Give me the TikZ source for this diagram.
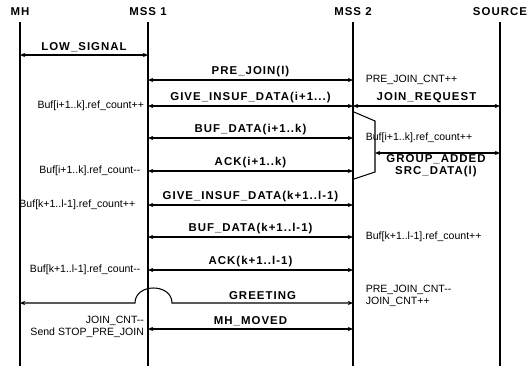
\documentclass[tikz,border=0pt]{standalone}
\usepackage{fontspec}
\setmainfont{Liberation Sans}
\newfontfamily\msgfont[LetterSpace=9]{Liberation Sans}
\usetikzlibrary{arrows.meta}

\begin{document}
\begin{tikzpicture}[
  x=0.02cm, y=-0.02cm,
  line width=0.6pt,
  msg/.style={{Stealth[length=3pt,width=2.4pt]}-{Stealth[length=3pt,width=2.4pt]}},
  lbl/.style={midway, above, inner sep=1.5pt, font=\msgfont\bfseries\fontsize{6.5}{7}\selectfont},
  head/.style={font=\msgfont\bfseries\fontsize{6.5}{7}\selectfont},
  notel/.style={anchor=east, align=right, inner sep=1pt, font=\fontsize{6}{6.8}\selectfont},
  noter/.style={anchor=west, align=left, inner sep=1pt, font=\fontsize{6}{6.8}\selectfont},
]
\useasboundingbox (0,0) rectangle (529,366);

% Lifelines
\node[head] (mh)   at (20,12)  {MH};
\node[head] (mss1) at (148,12) {MSS 1};
\node[head] (mss2) at (353,12) {MSS 2};
\node[head] (src)  at (500,12) {SOURCE};
\coordinate (top) at (0,22);
\coordinate (bot) at (0,366);
\foreach \l in {mh, mss1, mss2, src}
  \draw (\l |- top) -- (\l |- bot);

% Row coordinates
\coordinate (lowsig) at (0,55);
\coordinate (prejoin) at (0,80);
\coordinate (give1) at (0,106);
\coordinate (buf1) at (0,138);
\coordinate (grp) at (0,153);
\coordinate (ack1) at (0,171);
\coordinate (give2) at (0,205);
\coordinate (buf2) at (0,237);
\coordinate (ack2) at (0,270);
\coordinate (greet) at (0,303);
\coordinate (moved) at (0,329);

% Messages
\draw[msg] (mh |- lowsig) -- (mss1 |- lowsig) node[lbl]{LOW\_SIGNAL};
\draw[msg] (mss1 |- prejoin) -- (mss2 |- prejoin) node[lbl]{PRE\_JOIN(l)};
\node[noter] at ([xshift=6pt]mss2 |- prejoin) {PRE\_JOIN\_CNT++};

\draw[msg] (mss1 |- give1) -- (mss2 |- give1) node[lbl]{GIVE\_INSUF\_DATA(i+1...)};
\draw[msg] (mss2 |- give1) -- (src |- give1) node[lbl]{JOIN\_REQUEST};
\node[notel] at ([xshift=-1pt]mss1 |- give1) {Buf[i+1..k].ref\_count++};

\draw[msg] (mss1 |- buf1) -- (mss2 |- buf1) node[lbl]{BUF\_DATA(i+1..k)};
\node[noter] at ([xshift=6pt]mss2 |- buf1) {Buf[i+1..k].ref\_count++};

\draw[msg] (mss1 |- ack1) -- (mss2 |- ack1) node[lbl]{ACK(i+1..k)};
\node[notel] at ([xshift=-3pt]mss1 |- ack1) {Buf[i+1..k].ref\_count-{}-};

% Source side: group added
\draw (354,112) -- (375,121) -- (375,172) -- (354,179);
\coordinate (tr) at (375,153);
\draw[msg] (tr) -- (src |- grp);
\node[anchor=north, align=center, inner sep=0.5pt,
      font=\msgfont\bfseries\fontsize{6.5}{6.8}\selectfont] (grplbl) at (436,153)
  {GROUP\_ADDED\\SRC\_DATA(l)};

\draw[msg] (mss1 |- give2) -- (mss2 |- give2) node[lbl]{GIVE\_INSUF\_DATA(k+1..l-1)};
\node[notel] at ([xshift=-6pt]mss1 |- give2) {Buf[k+1..l-1].ref\_count++};

\draw[msg] (mss1 |- buf2) -- (mss2 |- buf2) node[lbl]{BUF\_DATA(k+1..l-1)};
\node[noter] at ([xshift=6pt]mss2 |- buf2) {Buf[k+1..l-1].ref\_count++};

\draw[msg] (mss1 |- ack2) -- (mss2 |- ack2) node[lbl]{ACK(k+1..l-1)};
\node[notel] at ([xshift=-3pt]mss1 |- ack2) {Buf[k+1..l-1].ref\_count-{}-};

% Greeting hops over MSS 1
\draw[msg] (mh |- greet) -- (135,303) .. controls (135,283) and (172,283) .. (172,303)
  -- (mss2 |- greet) node[lbl]{GREETING};
\node[noter] at ([xshift=6pt]mss2 |- 0,296) {PRE\_JOIN\_CNT-{}-\\JOIN\_CNT++};

\draw[msg] (mss1 |- moved) -- (mss2 |- moved) node[lbl]{MH\_MOVED};
\node[notel] at ([xshift=-1pt]mss1 |- 0,327) {JOIN\_CNT-{}-\\Send STOP\_PRE\_JOIN};

\end{tikzpicture}
\end{document}
